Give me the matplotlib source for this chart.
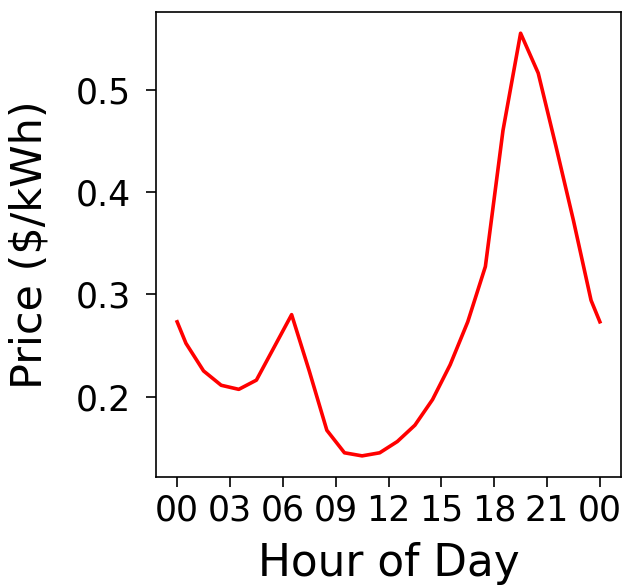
import matplotlib
matplotlib.use("Agg")
import matplotlib.pyplot as plt

# hourly prices (sampled at half past each hour, plus the day's two endpoints)
hours = [0, 0.5, 1.5, 2.5, 3.5, 4.5, 5.5, 6.5, 7.5, 8.5, 9.5, 10.5, 11.5,
         12.5, 13.5, 14.5, 15.5, 16.5, 17.5, 18.5, 19.5, 20.5, 21.5, 22.5, 23.5, 24]
price = [0.273, 0.252, 0.225, 0.211, 0.207, 0.216, 0.248, 0.280, 0.225, 0.167,
         0.145, 0.142, 0.145, 0.156, 0.172, 0.197, 0.231, 0.273, 0.327, 0.460,
         0.555, 0.516, 0.445, 0.372, 0.294, 0.273]
tick_hours = [0, 3, 6, 9, 12, 15, 18, 21, 24]
tick_labels = ["00", "03", "06", "09", "12", "15", "18", "21", "00"]

fig = plt.figure(figsize=(6.25, 5.87), dpi=100)
ax = fig.add_axes([0.2496, 0.1874, 0.744, 0.792])
ax.plot(hours, price, color="red", linewidth=2.6)

ax.set_xticks(tick_hours)
ax.set_xticklabels(tick_labels)
ax.set_yticks([0.2, 0.3, 0.4, 0.5])
ax.tick_params(labelsize=25, length=7, width=1.2)
ax.tick_params(axis="y", pad=11)
ax.tick_params(axis="x", pad=5)
for s in ax.spines.values():
    s.set_linewidth(1.2)
ax.set_xlabel("Hour of Day", fontsize=31.5, labelpad=10)
ax.set_ylabel("Price ($/kWh)", fontsize=31, labelpad=18)

fig.savefig("out.png", dpi=100)
